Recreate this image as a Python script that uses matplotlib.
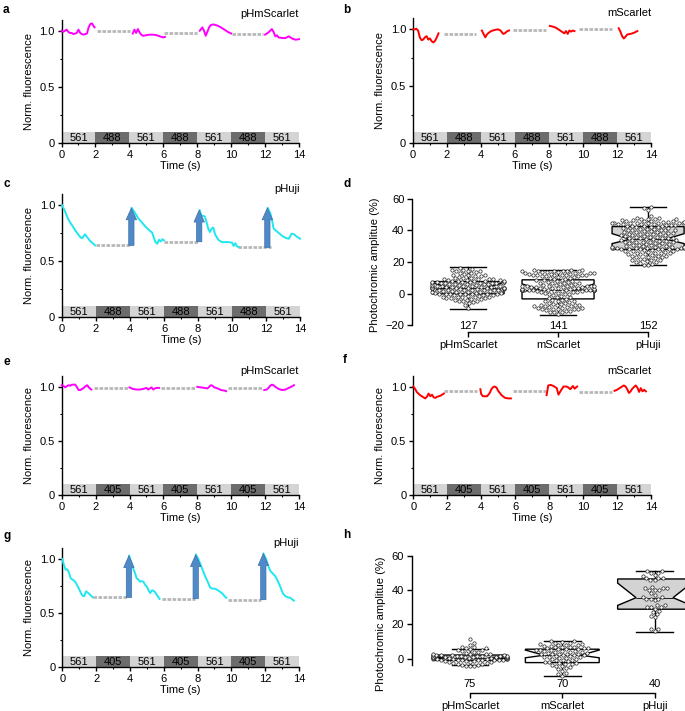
import matplotlib
matplotlib.use("Agg")
import matplotlib.pyplot as plt
import numpy as np
import pandas as pd
import seaborn as sns

plt.rcParams['font.family'] = ['Liberation Sans', 'DejaVu Sans']
plt.rcParams['font.size'] = 8

# illumination scheme (2 s per phase)
phase_start = [0, 2, 4, 6, 8, 10, 12]
labels_488 = ['561', '488', '561', '488', '561', '488', '561']
labels_405 = ['561', '405', '561', '405', '561', '405', '561']

# ---- a: pHmScarlet, 561/488
a_t = [[0, 0.1, 0.2, 0.3, 0.4, 0.5, 0.6, 0.7, 0.8, 0.9, 1.0, 1.1, 1.2, 1.3, 1.4, 1.5, 1.6, 1.7, 1.8, 1.9, 1.95],
       [4.2, 4.3, 4.4, 4.5, 4.6, 4.7, 4.8, 5.0, 5.2, 5.4, 5.6, 5.8, 6.0, 6.1],
       [8.15, 8.3, 8.4, 8.5, 8.6, 8.7, 8.8, 8.9, 9.0, 9.2, 9.4, 9.6, 9.8, 10.0],
       [12.0, 12.2, 12.4, 12.5, 12.6, 12.7, 12.8, 13.0, 13.2, 13.4, 13.6, 13.8, 14.0]]
a_y = [[1.0, 0.99, 1.0, 1.01, 0.99, 0.98, 0.98, 0.97, 0.975, 0.98, 1.01, 0.98, 0.97, 0.965, 0.97, 0.975, 1.03, 1.06, 1.065, 1.04, 1.03],
       [0.975, 1.01, 0.98, 1.015, 0.985, 0.965, 0.955, 0.96, 0.965, 0.965, 0.96, 0.95, 0.94, 0.945],
       [1.0, 1.03, 1.0, 0.955, 0.99, 1.03, 1.05, 1.055, 1.055, 1.045, 1.03, 1.01, 0.99, 0.975],
       [0.965, 0.985, 1.015, 0.99, 0.95, 0.96, 0.94, 0.935, 0.935, 0.95, 0.93, 0.92, 0.925]]
a_gap_start = [2.1, 6.06, 10.04]
a_gap_end = [4.06, 7.98, 11.9]
a_gap_level = [0.995, 0.98, 0.973]

# ---- b: mScarlet, 561/488
b_t = [[0, 0.1, 0.2, 0.3, 0.4, 0.5, 0.6, 0.7, 0.8, 0.9, 1.0, 1.1, 1.2, 1.3, 1.4, 1.5],
       [4.05, 4.15, 4.25, 4.35, 4.45, 4.6, 4.8, 5.0, 5.15, 5.3, 5.4, 5.55, 5.65],
       [8.05, 8.2, 8.4, 8.6, 8.8, 8.9, 9.0, 9.1, 9.2, 9.3, 9.4, 9.5],
       [12.1, 12.2, 12.3, 12.4, 12.5, 12.6, 12.8, 13.0, 13.2]]
b_y = [[1.0, 1.0, 1.005, 0.99, 0.93, 0.905, 0.91, 0.93, 0.94, 0.91, 0.92, 0.895, 0.885, 0.9, 0.93, 0.965],
       [0.99, 0.96, 0.93, 0.955, 0.97, 0.985, 0.995, 1.0, 0.99, 0.96, 0.965, 0.985, 0.99],
       [1.03, 1.025, 1.015, 0.995, 0.975, 0.965, 0.985, 0.96, 0.99, 0.98, 0.99, 0.985],
       [1.01, 0.98, 0.94, 0.92, 0.935, 0.955, 0.96, 0.97, 0.985]]
b_gap_start = [1.8, 5.9, 9.78]
b_gap_end = [3.73, 7.8, 11.7]
b_gap_level = [0.96, 0.995, 1.0]

# ---- c: pHuji, 561/488
c_t = [[0, 0.15, 0.35, 0.5, 0.65, 0.8, 0.95, 1.1, 1.2, 1.35, 1.5, 1.65, 1.8, 1.95],
       [4.1, 4.3, 4.5, 4.7, 4.9, 5.1, 5.3, 5.4, 5.5, 5.6, 5.7, 5.8, 5.9, 6.0],
       [8.1, 8.2, 8.3, 8.4, 8.5, 8.6, 8.7, 8.8, 8.9, 9.0, 9.2, 9.4, 9.6, 9.8, 10.0, 10.1, 10.2, 10.3, 10.4],
       [12.1, 12.25, 12.35, 12.45, 12.6, 12.8, 13.0, 13.2, 13.35, 13.5, 13.65, 13.8, 14.0]]
c_y = [[1.0, 0.955, 0.88, 0.84, 0.807, 0.77, 0.74, 0.71, 0.705, 0.74, 0.71, 0.68, 0.66, 0.64],
       [0.975, 0.93, 0.88, 0.845, 0.81, 0.78, 0.755, 0.71, 0.67, 0.655, 0.69, 0.675, 0.695, 0.685],
       [0.955, 0.905, 0.905, 0.90, 0.85, 0.79, 0.76, 0.79, 0.80, 0.74, 0.69, 0.67, 0.67, 0.67, 0.665, 0.635, 0.66, 0.63, 0.625],
       [0.975, 0.93, 0.87, 0.79, 0.77, 0.745, 0.72, 0.705, 0.70, 0.745, 0.74, 0.72, 0.70]]
c_gap_start = [1.98, 6.0, 10.37]
c_gap_end = [3.99, 8.0, 12.28]
c_gap_level = [0.64, 0.673, 0.622]
c_arrow_t = [4.08, 8.07, 12.08]
c_arrow_top = [0.975, 0.955, 0.975]

# ---- e: pHmScarlet, 561/405
e_t = [[0, 0.1, 0.2, 0.3, 0.4, 0.5, 0.6, 0.7, 0.8, 0.9, 1.0, 1.1, 1.2, 1.3, 1.4, 1.5, 1.6, 1.7, 1.75],
       [4.0, 4.2, 4.4, 4.6, 4.8, 5.0, 5.1, 5.2, 5.3, 5.4, 5.5, 5.6, 5.75],
       [8.0, 8.2, 8.4, 8.6, 8.7, 8.8, 8.9, 9.0, 9.2, 9.4, 9.6, 9.7],
       [11.95, 12.1, 12.2, 12.3, 12.4, 12.5, 12.6, 12.8, 13.0, 13.2, 13.4, 13.6, 13.7]]
e_y = [[1.015, 1.01, 0.995, 1.005, 1.015, 1.01, 1.02, 1.02, 1.02, 0.995, 0.97, 0.97, 0.98, 0.99, 1.005, 1.015, 0.995, 0.98, 0.975],
       [0.995, 0.98, 0.975, 0.975, 0.98, 0.99, 0.975, 0.985, 0.995, 0.975, 0.985, 0.99, 0.99],
       [1.0, 0.995, 0.99, 0.985, 1.0, 1.015, 1.01, 0.995, 0.985, 0.97, 0.965, 0.96],
       [0.97, 0.975, 0.99, 1.01, 1.02, 1.015, 1.0, 0.98, 0.97, 0.975, 0.99, 1.005, 1.015]]
e_gap_start = [1.9, 5.85, 9.8]
e_gap_end = [3.93, 7.86, 11.8]
e_gap_level = [0.985, 0.99, 0.985]

# ---- f: mScarlet, 561/405
f_t = [[0, 0.1, 0.2, 0.3, 0.4, 0.5, 0.6, 0.7, 0.8, 0.9, 1.0, 1.1, 1.2, 1.3, 1.4, 1.5, 1.6, 1.7, 1.8],
       [3.95, 4.0, 4.1, 4.2, 4.35, 4.5, 4.6, 4.7, 4.8, 4.9, 5.0, 5.1, 5.2, 5.4, 5.6, 5.75],
       [7.85, 7.95, 8.1, 8.25, 8.45, 8.55, 8.7, 8.85, 9.0, 9.1, 9.25, 9.4, 9.5, 9.65],
       [11.85, 12.0, 12.2, 12.4, 12.5, 12.6, 12.7, 12.8, 12.9, 13.0, 13.1, 13.2, 13.3, 13.4, 13.5, 13.6, 13.7]]
f_y = [[1.0, 0.98, 0.95, 0.935, 0.92, 0.91, 0.9, 0.89, 0.905, 0.935, 0.91, 0.925, 0.9, 0.895, 0.905, 0.91, 0.915, 0.925, 0.935],
       [0.975, 0.93, 0.91, 0.91, 0.91, 0.94, 0.975, 0.995, 1.0, 0.99, 0.96, 0.94, 0.92, 0.895, 0.89, 0.89],
       [0.92, 1.01, 1.015, 1.005, 0.985, 0.925, 0.965, 1.0, 1.0, 0.995, 0.975, 1.005, 0.98, 1.0],
       [0.96, 0.97, 0.99, 1.01, 1.0, 0.975, 0.94, 0.955, 0.98, 0.995, 1.01, 0.99, 0.95, 0.985, 0.955, 0.97, 0.955]]
f_gap_start = [1.83, 5.85, 9.78]
f_gap_end = [3.77, 7.8, 11.7]
f_gap_level = [0.963, 0.963, 0.95]

# ---- g: pHuji, 561/405
g_t = [[0, 0.1, 0.2, 0.3, 0.4, 0.5, 0.6, 0.7, 0.8, 0.9, 1.0, 1.1, 1.2, 1.3, 1.4, 1.5, 1.6, 1.7, 1.8],
       [3.95, 4.1, 4.2, 4.3, 4.4, 4.5, 4.6, 4.7, 4.8, 4.9, 5.0, 5.1, 5.2, 5.3, 5.4, 5.5, 5.6, 5.75],
       [7.9, 8.05, 8.15, 8.3, 8.45, 8.6, 8.75, 8.9, 9.05, 9.2, 9.35, 9.5, 9.6, 9.7],
       [11.9, 12.05, 12.15, 12.3, 12.45, 12.6, 12.75, 12.9, 13.05, 13.2, 13.35, 13.5, 13.6, 13.7]]
g_y = [[1.0, 0.94, 0.9, 0.905, 0.87, 0.82, 0.81, 0.8, 0.78, 0.75, 0.72, 0.685, 0.66, 0.655, 0.7, 0.69, 0.675, 0.66, 0.645],
       [1.03, 0.96, 0.91, 0.87, 0.82, 0.81, 0.79, 0.795, 0.79, 0.76, 0.745, 0.71, 0.685, 0.71, 0.705, 0.69, 0.665, 0.63],
       [1.04, 1.0, 0.96, 0.9, 0.84, 0.79, 0.735, 0.725, 0.725, 0.71, 0.695, 0.675, 0.655, 0.64],
       [1.05, 1.0, 0.95, 0.89, 0.865, 0.84, 0.795, 0.74, 0.68, 0.655, 0.645, 0.64, 0.625, 0.615]]
g_gap_start = [1.83, 5.88, 9.78]
g_gap_end = [3.85, 7.85, 11.76]
g_gap_level = [0.644, 0.632, 0.623]
g_arrow_t = [3.94, 7.89, 11.89]
g_arrow_top = [1.03, 1.04, 1.05]

# ---- d / h: photochromic amplitudes
names = ['pHmScarlet', 'mScarlet', 'pHuji']

d_n = [127, 141, 152]
d_med = [3.5, 2.5, 34.5]
d_q1 = [-0.2, -3.4, 28.0]
d_q3 = [7.6, 8.7, 42.5]
d_lo = [-9.5, -13.5, 17.8]
d_hi = [16.7, 15.0, 54.6]
d_cilo = [2.5, 1.5, 31.7]
d_cihi = [7.0, 6.1, 38.0]
d_phm = [-9, -7, -6, -5.5, -5, -5, -4.5, -4, -4, -3.5, -3.5, -3, -3, -3, -2.5, -2.5, -2, -2, -2, -1.5,
         -1.5, -1, -1, -1, -0.5, -0.5, -0.5, 0, 0, 0, 0, 0,
         0.3, 0.5, 0.5, 0.8, 1, 1, 1.2, 1.5, 1.5, 1.8, 2, 2, 2, 2.2, 2.5, 2.5, 2.5, 2.8, 3, 3,
         3, 3, 3.2, 3.3, 3.5, 3.5, 3.5, 3.5, 3.5, 3.5, 3.5,
         3.8, 4, 4, 4, 4.2, 4.5, 4.5, 4.5, 4.8, 5, 5, 5, 5.2, 5.5, 5.5, 5.8, 6, 6, 6, 6.2,
         6.5, 6.5, 6.5, 6.8, 7, 7, 7, 7.2, 7.5, 7.5, 7.5, 7.6,
         7.8, 8, 8, 8, 8.2, 8.5, 8.5, 8.8, 9, 9, 9.2, 9.5, 9.8, 10, 10, 10.5, 11, 11, 11.5, 12,
         12, 12.5, 13, 13, 13.5, 14, 14, 14.5, 15, 15, 15.5, 16.5]
d_msc = [-13, -12, -12, -11.5, -11, -11, -10.5, -10, -10, -10, -9.5, -9.5, -9, -9, -9, -8.5, -8.5, -8,
         -8, -8, -7.5, -7.5, -7, -7, -6.5, -6.5, -6, -6, -5.5, -5, -5, -4.5, -4, -4, -3.5,
         -3, -2.5, -2, -1.5, -1, -0.5, 0, 0, 0.5, 0.5, 1, 1, 1, 1.5, 1.5, 1.5, 1.5, 2, 2, 2,
         2, 2, 2.2, 2.2, 2.2, 2.3, 2.3, 2.4, 2.4, 2.4, 2.5, 2.5, 2.5, 2.5, 2.5,
         2.8, 3, 3, 3, 3.3, 3.5, 3.5, 3.5, 3.8, 4, 4, 4, 4.2, 4.5, 4.5, 4.5, 4.8, 5, 5, 5,
         5.3, 5.5, 5.5, 6, 6, 6.5, 6.5, 7, 7, 7.5, 7.5, 8, 8, 8.3, 8.5, 8.7,
         9, 9.5, 10, 10, 10.5, 10.5, 11, 11, 11, 11.5, 11.5, 11.5, 12, 12, 12, 12, 12.5, 12.5,
         12.5, 13, 13, 13, 13, 13.5, 13.5, 13.5, 14, 14, 14, 14, 14.5, 14.5, 15, 15, 15]
d_phu = [18, 18, 19, 19.5, 20, 20, 20.5, 21, 21, 21.5, 22, 22, 22.5, 23, 23, 23.5, 24, 24, 24, 24.5,
         25, 25, 25, 25.5, 26, 26, 26, 26.5, 26.5, 27, 27, 27, 27.5, 27.5, 28, 28, 28, 28,
         28.5, 28.5, 28.5, 29, 29, 29, 29, 29, 29, 29, 29.5, 29.5, 29.5, 29.5, 30, 30, 30, 30.5,
         30.5, 31, 31, 31.5, 31.5, 32, 32, 32, 32.5, 32.5, 33, 33, 33, 33.5, 33.5, 34, 34, 34, 34.5, 34.5,
         35, 35, 35, 35.5, 35.5, 36, 36, 36, 36.5, 36.5, 37, 37, 37, 37.5, 37.5, 38, 38, 38, 38.5,
         38.5, 39, 39, 39, 39.5, 39.5, 40, 40, 40, 40.5, 40.5, 41, 41, 41, 41.5, 41.5, 42, 42, 42.5,
         43, 43, 43, 43, 43.5, 43.5, 43.5, 44, 44, 44, 44, 44.5, 44.5, 44.5, 45, 45, 45, 45, 45,
         45.5, 45.5, 45.5, 46, 46, 46, 46, 46.5, 46.5, 47, 47, 47, 47.5, 48, 48, 49, 53, 54, 55]

h_n = [75, 70, 40]
h_med = [0.5, 2.0, 35.5]
h_q1 = [-1.0, -2.3, 28.8]
h_q3 = [2.1, 5.5, 46.4]
h_lo = [-3.7, -10.3, 15.8]
h_hi = [5.5, 10.3, 51.3]
h_cilo = [0.0, 0.5, 31.0]
h_cihi = [1.2, 5.0, 44.0]
h_phm = [-4.5, -4, -4, -3.5, -3.5, -3, -3, -2.5, -2.5, -2, -2, -2, -1.5, -1.5, -1.5, -1, -1, -1, -1,
         -0.5, -0.5, -0.5, -0.5, 0, 0, 0, 0, 0, 0, 0.3, 0.3, 0.5, 0.5, 0.5, 0.5, 0.5, 0.8, 0.8,
         1, 1, 1, 1, 1, 1.2, 1.2, 1.5, 1.5, 1.5, 1.5, 1.8, 1.8, 2, 2, 2, 2, 2.2, 2.2, 2.5, 2.5,
         3, 3, 3.5, 4, 4, 4.5, 5, 5, 5.5, 6, 6, 6.5, 7, 8, 9, 11.5]
h_msc = [-10, -9, -8.5, -7, -6, -5.5, -5, -4.5, -4, -3.5, -3, -3, -2.5, -2.5, -2, -2, -1.5, -1, -1,
         -0.5, 0, 0, 0.5, 0.5, 1, 1, 1, 1.5, 1.5, 2, 2, 2, 2.5, 2.5, 3, 3, 3, 3.5, 3.5, 4,
         4, 4, 4.5, 4.5, 4.5, 5, 5, 5, 5.5, 5.5, 5.5, 6, 6, 6, 6.5, 6.5, 7, 7, 7.5, 7.5,
         8, 8, 8, 8.5, 8.5, 9, 9, 9.5, 10, 10]
h_phu = [16, 17, 17, 24, 25, 26, 27, 28, 29, 30, 30, 30, 31, 31, 34, 35, 35, 35, 36, 36,
         37, 38, 40, 40, 40, 41, 41, 41, 42, 46, 46, 47, 47, 47, 48, 49, 50, 50, 51, 51]

W, H = 685, 711
fig = plt.figure(figsize=(W / 100, H / 100), dpi=100)


def px_axes(left, bottom, right, top):
    return fig.add_axes([left / W, 1 - bottom / H, (right - left) / W, (bottom - top) / H])


def trace_panel(ax, seg_t, seg_y, color, gap_s, gap_e, gap_lvl, bar_labels, title,
                arrow_t=None, arrow_top=None):
    bar_colors = ['#d4d4d4', '#6c6c6c'] * 3 + ['#d4d4d4']
    ax.bar(phase_start, 0.1, width=2, align='edge', color=bar_colors, edgecolor='none', zorder=1)
    for s, lab in zip(phase_start, bar_labels):
        ax.text(s + 1, 0.048, lab, ha='center', va='center', fontsize=8, zorder=2)
    for t, y in zip(seg_t, seg_y):
        ax.plot(t, y, color=color, lw=1.4, clip_on=False, zorder=4)
    ax.hlines(gap_lvl, gap_s, gap_e, colors='#b8b8b8', linewidth=2.0,
              linestyles=[(0, (1.3, 0.5))], zorder=3)
    if arrow_t is not None:
        for t, base, top in zip(arrow_t, gap_lvl, arrow_top):
            ax.annotate('', xy=(t, top), xytext=(t, base),
                        arrowprops=dict(arrowstyle='simple,head_length=0.85,head_width=0.75,tail_width=0.38',
                                        mutation_scale=10, fc='#5089c8', ec='#3b6ea8', lw=0.5,
                                        shrinkA=0, shrinkB=0), zorder=5)
    ax.set_xlim(0, 14)
    ax.set_ylim(0, 1.1)
    ax.set_xticks(range(0, 15, 2))
    ax.set_xticks(range(1, 14, 2), minor=True)
    ax.set_yticks([0, 0.5, 1.0], ['0', '0.5', '1.0'])
    ax.set_yticks([0.25, 0.75], minor=True)
    ax.tick_params(length=3, width=1, pad=2)
    ax.tick_params(which='minor', length=1.5, width=0.8)
    for s in ['top', 'right']:
        ax.spines[s].set_visible(False)
    for s in ['left', 'bottom']:
        ax.spines[s].set_linewidth(1.0)
    ax.set_xlabel('Time (s)', labelpad=1)
    ax.set_ylabel('Norm. fluorescence')
    ax.text(14, 1.145, title, ha='right', va='center', clip_on=False)


def box_panel(ax, groups, n, med, q1, q3, lo, hi, cilo, cihi, fills, ylim, xlim, spine_lo, n_y):
    stats = []
    for i in range(3):
        stats.append(dict(med=med[i], q1=q1[i], q3=q3[i], whislo=lo[i], whishi=hi[i],
                          cilo=cilo[i], cihi=cihi[i], fliers=[]))
    bp = ax.bxp(stats, positions=[0, 1, 2], widths=0.8, shownotches=True, patch_artist=True,
                showfliers=False,
                boxprops=dict(edgecolor='black', linewidth=1.0),
                whiskerprops=dict(color='black', linewidth=1.0),
                capprops=dict(color='black', linewidth=1.0),
                medianprops=dict(color='black', linewidth=0.6))
    for patch, c in zip(bp['boxes'], fills):
        patch.set_facecolor(c)
        patch.set_zorder(1)
    df = pd.DataFrame({'g': np.repeat(names, [len(v) for v in groups]),
                       'v': np.concatenate([np.asarray(v, float) for v in groups])})
    sns.swarmplot(data=df, x='g', y='v', order=names, ax=ax, size=2.4, color='white',
                  edgecolor='#222222', linewidth=0.5, zorder=3, warn_thresh=1)
    ax.set_xlim(*xlim)
    ax.set_ylim(*ylim)
    ax.set_xticks([0, 1, 2], names)
    ax.set_yticks([-20, 0, 20, 40, 60])
    ax.tick_params(length=3.5, width=1, pad=2)
    for s in ['top', 'right']:
        ax.spines[s].set_visible(False)
    ax.spines['left'].set_bounds(spine_lo, 60)
    ax.spines['bottom'].set_bounds(0, 2)
    for s in ['left', 'bottom']:
        ax.spines[s].set_linewidth(1.0)
    ax.set_xlabel('')
    ax.set_ylabel('Photochromic amplitue (%)')
    for i in range(3):
        ax.text(i, n_y, str(n[i]), ha='center', va='center')


ax_a = px_axes(61.5, 143, 299, 19.5)
trace_panel(ax_a, a_t, a_y, '#ff00ff', a_gap_start, a_gap_end, a_gap_level, labels_488, 'pHmScarlet')
ax_b = px_axes(413, 143, 651, 18)
trace_panel(ax_b, b_t, b_y, '#ff0000', b_gap_start, b_gap_end, b_gap_level, labels_488, 'mScarlet')
ax_c = px_axes(62, 317, 300, 194)
trace_panel(ax_c, c_t, c_y, '#1fe6f0', c_gap_start, c_gap_end, c_gap_level, labels_488, 'pHuji',
            c_arrow_t, c_arrow_top)
ax_e = px_axes(61.7, 495, 299, 376)
trace_panel(ax_e, e_t, e_y, '#ff00ff', e_gap_start, e_gap_end, e_gap_level, labels_405, 'pHmScarlet')
ax_f = px_axes(413.3, 494.7, 651, 375.7)
trace_panel(ax_f, f_t, f_y, '#ff0000', f_gap_start, f_gap_end, f_gap_level, labels_405, 'mScarlet')
ax_g = px_axes(62.3, 667, 299, 548.2)
trace_panel(ax_g, g_t, g_y, '#1fe6f0', g_gap_start, g_gap_end, g_gap_level, labels_405, 'pHuji',
            g_arrow_t, g_arrow_top)

ax_d = px_axes(412, 332, 685, 197.4)
box_panel(ax_d, [d_phm, d_msc, d_phu], d_n, d_med, d_q1, d_q3, d_lo, d_hi, d_cilo, d_cihi,
          ['#d3d3d3', 'white', '#d3d3d3'], (-24.4, 61), (-0.622, 2.41), -20, -20.5)
ax_h = px_axes(411.7, 693, 685, 553.9)
box_panel(ax_h, [h_phm, h_msc, h_phu], h_n, h_med, h_q1, h_q3, h_lo, h_hi, h_cilo, h_cihi,
          ['#d3d3d3', 'white', '#d3d3d3'], (-18.8, 61), (-0.632, 2.33), -3.7, -14.7)
ax_h.set_yticks([0, 20, 40, 60])

for lab, x, y in [('a', 3, 10), ('b', 343, 10), ('c', 3, 184), ('d', 343, 184),
                  ('e', 3, 362), ('f', 343, 360), ('g', 3, 536), ('h', 343, 535)]:
    fig.text(x / W, 1 - y / H, lab, fontweight='bold', fontsize=8.5, va='center', ha='left')

fig.savefig('out.png', dpi=100)
